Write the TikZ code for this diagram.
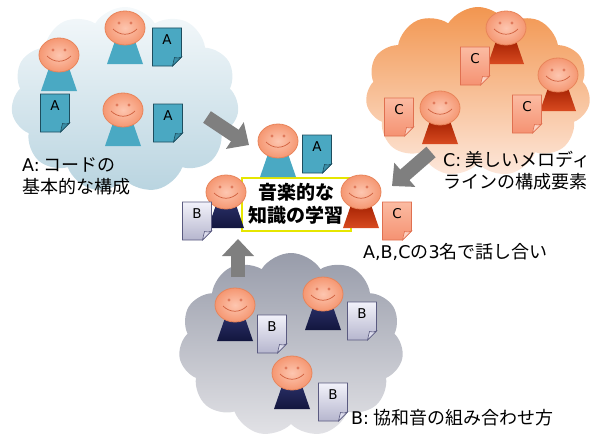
\documentclass[tikz,border=0pt]{standalone}
\usepackage{fontspec}
\setmainfont{Noto Sans CJK JP}
\newfontfamily\docfont{DejaVu Sans}
\newcommand\latn[1]{{\docfont\fontsize{17.5}{22}\selectfont #1}}
\usetikzlibrary{shapes.symbols,arrows.meta}

% palette
\definecolor{cloudAlt}{HTML}{F5F9FB}
\definecolor{cloudAdk}{HTML}{B9D4E0}
\definecolor{cloudBlt}{HTML}{E2E2E6}
\definecolor{cloudBdk}{HTML}{989CAA}
\definecolor{cloudClt}{HTML}{FDE8DC}
\definecolor{cloudCdk}{HTML}{F29650}
\definecolor{arrowgray}{HTML}{7F7F7F}
\definecolor{facein}{HTML}{FDC6B0}
\definecolor{faceout}{HTML}{F59772}
\definecolor{faceline}{HTML}{E8845A}
\definecolor{eyecol}{HTML}{E07A5C}
\definecolor{smilecol}{HTML}{D0603E}
\definecolor{tealbody}{HTML}{4AA9C3}
\definecolor{navytop}{HTML}{2B3068}
\definecolor{navybot}{HTML}{12163E}
\definecolor{redtop}{HTML}{A01E00}
\definecolor{redbot}{HTML}{D84A20}
\definecolor{docAfill}{HTML}{4AA8C2}
\definecolor{docAline}{HTML}{1D4D5E}
\definecolor{docAflap}{HTML}{3A8FA8}
\definecolor{docBtop}{HTML}{F2F2FA}
\definecolor{docBbot}{HTML}{B6B6CE}
\definecolor{docBline}{HTML}{5A5A80}
\definecolor{docBflap}{HTML}{DCDCEC}
\definecolor{docCtop}{HTML}{FBBBA2}
\definecolor{docCbot}{HTML}{F59272}
\definecolor{docCline}{HTML}{E07050}
\definecolor{docCflap}{HTML}{FCD2C2}
\definecolor{boxyellow}{HTML}{E6E600}

\tikzset{
  cloudbase/.style={cloud, cloud puffs=11, cloud puff arc=115, cloud ignores aspect, shading=axis, shading angle=45},
  bigarrow/.style={draw=arrowgray, line width=14pt, -{Triangle[length=17pt, width=31pt]}},
  bodyA/.style={fill=tealbody},
  bodyB/.style={top color=navytop, bottom color=navybot},
  bodyC/.style={top color=redtop, bottom color=redbot},
  docA/.style={fill=docAfill, draw=docAline, line width=0.8pt},
  docAfold/.style={fill=docAflap, draw=docAline, line width=0.6pt},
  docB/.style={top color=docBtop, bottom color=docBbot, draw=docBline, line width=0.8pt},
  docBfold/.style={fill=docBflap, draw=docBline, line width=0.6pt},
  docC/.style={top color=docCtop, bottom color=docCbot, draw=docCline, line width=0.8pt},
  docCfold/.style={fill=docCflap, draw=docCline, line width=0.6pt},
  doclabel/.style={font=\docfont\fontsize{13.5}{15}\selectfont, inner sep=0pt},
  lbl/.style={font=\fontsize{18}{22}\selectfont, align=left, inner sep=0pt, anchor=west},
  pics/person/.style={code={
    % trapezoid body, then the head on top of it
    \path[#1] (-9,10) -- (9,10) -- (18,36) -- (-18,36) -- cycle;
    \shade[inner color=facein, outer color=faceout] (0,0) ellipse (20 and 17);
    \draw[faceline, line width=0.8pt] (0,0) ellipse (20 and 17);
    \fill[eyecol] (-6,-5) circle (1.7);
    \fill[eyecol] (6,-5) circle (1.7);
    \draw[smilecol, line width=0.7pt] (-12,1) .. controls (-5,8) and (5,8) .. (12,1);
  }},
  pics/doc/.style 2 args={code={
    % page with a folded lower right corner
    \path[#1] (-14.5,-19) -- (14.5,-19) -- (14.5,10) -- (5.5,19) -- (-14.5,19) -- cycle;
    \path[#1fold] (5.5,19) .. controls (6.5,15) and (7,12) .. (7.5,10.5)
      .. controls (10,11.5) and (12.5,11) .. (14.5,10) -- cycle;
    \node[doclabel] at (0,-7) {#2};
  }}
}

\begin{document}
\begin{tikzpicture}[x=1pt,y=-1pt]
\useasboundingbox (0,0) rectangle (593,436);

% the three group clouds
\node[cloudbase, minimum width=228, minimum height=186, top color=cloudAlt, bottom color=cloudAdk] (cloudA) at (125,100) {};
\node[cloudbase, minimum width=225, minimum height=170, top color=cloudCdk, bottom color=cloudClt] (cloudC) at (478,92) {};
\node[cloudbase, minimum width=225, minimum height=184, top color=cloudBdk, bottom color=cloudBlt] (cloudB) at (291,345) {};

% arrows towards the joint discussion
\coordinate (arrAs) at (207,117);
\coordinate (arrAe) at (249,145);
\coordinate (arrCs) at (431,152);
\coordinate (arrCe) at (392,186);
\coordinate (arrBs) at (238,277);
\coordinate (arrBe) at (238,239);
\draw[bigarrow] (arrAs) -- (arrAe);
\draw[bigarrow] (arrCs) -- (arrCe);
\draw[bigarrow] (arrBs) -- (arrBe);

% group A
\pic (pA1) at (125,28) {person=bodyA};
\pic (pA2) at (59,55) {person=bodyA};
\pic (pA3) at (123,110) {person=bodyA};
\pic (dA1) at (167,47) {doc={docA}{A}};
\pic (dA2) at (55,113) {doc={docA}{A}};
\pic (dA3) at (168,123) {doc={docA}{A}};

% group C
\pic (pC1) at (506,28) {person=bodyC};
\pic (pC2) at (558,75) {person=bodyC};
\pic (pC3) at (440,108) {person=bodyC};
\pic (dC1) at (475,66) {doc={docC}{C}};
\pic (dC2) at (399,117) {doc={docC}{C}};
\pic (dC3) at (527,114) {doc={docC}{C}};

% group B
\pic (pB1) at (235,305) {person=bodyB};
\pic (pB2) at (323,294) {person=bodyB};
\pic (pB3) at (292,373) {person=bodyB};
\pic (dB1) at (272,334) {doc={docB}{B}};
\pic (dB2) at (362,321) {doc={docB}{B}};
\pic (dB3) at (333,402) {doc={docB}{B}};

% joint discussion in the middle
\node[draw=boxyellow, line width=2pt, fill=white, minimum width=109, minimum height=53,
      align=center, inner sep=0pt, font=\bfseries\fontsize{19}{23}\selectfont] (topic) at (296,204) {音楽的な\\知識の学習};
\pic (pMA) at (278,141) {person=bodyA};
\pic (dMA) at (317,154) {doc={docA}{A}};
\pic (pMB) at (226,192) {person=bodyB};
\pic (dMB) at (197,221) {doc={docB}{B}};
\pic (pMC) at (361,192) {person=bodyC};
\pic (dMC) at (397,221) {doc={docC}{C}};

% captions
\node[lbl] (labA) at (22,176) {\latn{A:} コードの\\基本的な構成};
\node[lbl] (labC) at (443,171) {\latn{C:} 美しいメロディ\\ラインの構成要素};
\node[lbl] (labB) at (351,418) {\latn{B:} 協和音の組み合わせ方};
\node[lbl] (labM) at (363,252) {\latn{A,B,C}の\latn{3}名で話し合い};
\end{tikzpicture}
\end{document}
